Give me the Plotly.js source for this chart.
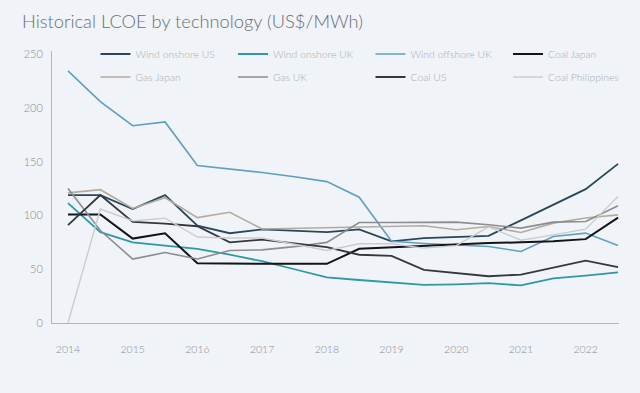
<!DOCTYPE html>
<html>
<head>
<meta charset="utf-8">
<script src="https://cdn.plot.ly/plotly-3.0.1.min.js"></script>
<style>
  html, body { margin: 0; padding: 0; background: #f0f3f7; }
  #chart { width: 640px; height: 393px; }
</style>
</head>
<body>
<div id="chart"></div>
<script>
// Half-yearly periods
const periods = [2014, 2014.5, 2015, 2015.5, 2016, 2016.5, 2017, 2017.5, 2018, 2018.5,
                 2019, 2019.5, 2020, 2020.5, 2021, 2021.5, 2022, 2022.5];

const seriesNames = ["Wind onshore US", "Wind onshore UK", "Wind offshore UK", "Coal Japan",
                     "Gas Japan", "Gas UK", "Coal US", "Coal Philippines"];

const windOnshoreUS   = [119, 119, 106, 119, 90.5, 83.5, 87, 86, 84.5, 87, 76, 79, 80, 81, 95.5, 110, 124.5, 148];
const windOnshoreUK   = [111.5, 84.5, 75, 72, 69, 63.5, 57.5, 50, 42.5, 40, 38, 35.5, 36, 37, 35, 41.5, 44, 47];
const windOffshoreUK  = [234.5, 206, 183.5, 187, 146.5, 143.5, 140, 136, 131.5, 117, 76, 74, 72.8, 71.2, 66.5, 80.5, 83.6, 72];
const coalJapan       = [101, 101, 78.5, 83.5, 55.5, 55, 55, 55, 55, 69, 70.5, 71.5, 73, 74.3, 75, 76, 78, 98];
const gasJapan        = [121, 124, 106.5, 116.5, 98, 103, 87.5, 88, 88.3, 89, 89.5, 90.4, 86.7, 89.8, 84.2, 92.9, 97.6, 100.6];
const gasUK           = [125, 86, 59.5, 65.5, 59.5, 67.5, 68, 71, 75, 93.5, 93.5, 93.8, 93.8, 91.4, 88.3, 93.8, 94.4, 109];
const coalUS          = [91, 119, 94, 92.5, 90, 75, 77.5, 74, 70.5, 63.5, 62.5, 49.5, 46.5, 43.5, 45, 51.5, 58, 52];
const coalPhilippines = [0, 106, 95, 97.5, 80, 79, 79, 73, 67.5, 73.7, 73.7, 69.7, 72, 89.5, 77, 82, 87.3, 117.7];

const yearTicks = [2014, 2015, 2016, 2017, 2018, 2019, 2020, 2021, 2022];
const yearLabels = ["2014", "2015", "2016", "2017", "2018", "2019", "2020", "2021", "2022"];
const valueTicks = [0, 50, 100, 150, 200, 250];

const allValues = [windOnshoreUS, windOnshoreUK, windOffshoreUK, coalJapan,
                   gasJapan, gasUK, coalUS, coalPhilippines];
const colors = ["#27485b", "#2e98a4", "#5f9fc2", "#111418",
                "#b5ab9d", "#8a8d91", "#34383d", "#cacdd0"];
const widths = [1.8, 1.8, 1.6, 2, 1.6, 1.6, 1.8, 1.4];
const legendRow = ["legend", "legend", "legend", "legend",
                   "legend2", "legend2", "legend2", "legend2"];

const FONT = "Lato, 'Open Sans', sans-serif";

const traces = seriesNames.map((name, i) => ({
  type: "scatter",
  mode: "lines",
  name: name,
  x: periods,
  y: allValues[i],
  legend: legendRow[i],
  line: { color: colors[i], width: widths[i] },
  hoverinfo: "skip"
}));

const legendBase = {
  orientation: "h",
  xref: "container", yref: "container",
  x: 95.5 / 640, xanchor: "left",
  yanchor: "top",
  entrywidth: 92.5, entrywidthmode: "pixels",
  font: { family: FONT, size: 10.4, color: "#a9acb0", weight: 300 },
  bgcolor: "rgba(0,0,0,0)",
  traceorder: "normal"
};

const layout = {
  width: 640,
  height: 393,
  paper_bgcolor: "#f0f3f7",
  plot_bgcolor: "#f0f3f7",
  margin: { l: 52, r: 21, t: 51, b: 70, autoexpand: false },
  font: { family: FONT, color: "#8a8d91", weight: 300 },
  title: {
    text: "Historical LCOE by technology (US$/MWh)",
    font: { family: FONT, size: 18.3, color: "#6b6e73", weight: 300 },
    x: 22 / 640, xanchor: "left", xref: "container",
    y: 1 - 22 / 393, yanchor: "middle", yref: "container"
  },
  showlegend: true,
  legend: Object.assign({}, legendBase, { y: 1 - 39.5 / 393 }),
  legend2: Object.assign({}, legendBase, { y: 1 - 62.5 / 393 }),
  xaxis: {
    range: [2013.753, 2022.515],
    tickvals: yearTicks,
    ticktext: yearLabels,
    showgrid: false,
    zeroline: false,
    showline: true,
    linecolor: "#b3b7bc",
    linewidth: 1,
    ticks: "",
    ticklabelstandoff: 16,
    tickfont: { family: FONT, size: 10.5, color: "#8a8d91", weight: 300 },
    fixedrange: true
  },
  yaxis: {
    range: [0, 253],
    tickvals: valueTicks,
    showgrid: false,
    zeroline: false,
    showline: true,
    linecolor: "#b3b7bc",
    linewidth: 1,
    ticks: "",
    ticklabelstandoff: 6,
    tickfont: { family: FONT, size: 11, color: "#8a8d91", weight: 300 },
    fixedrange: true
  },
  annotations: [{
    text: "Source: BNEF (2023)",
    xref: "container", yref: "container",
    x: 20 / 640, xanchor: "left",
    y: 1 - 370 / 393, yanchor: "middle",
    showarrow: false,
    font: { family: FONT, size: 5, color: "#9a9da1" }
  }]
};

Plotly.newPlot("chart", traces, layout, { displayModeBar: false, staticPlot: true });
</script>
</body>
</html>
